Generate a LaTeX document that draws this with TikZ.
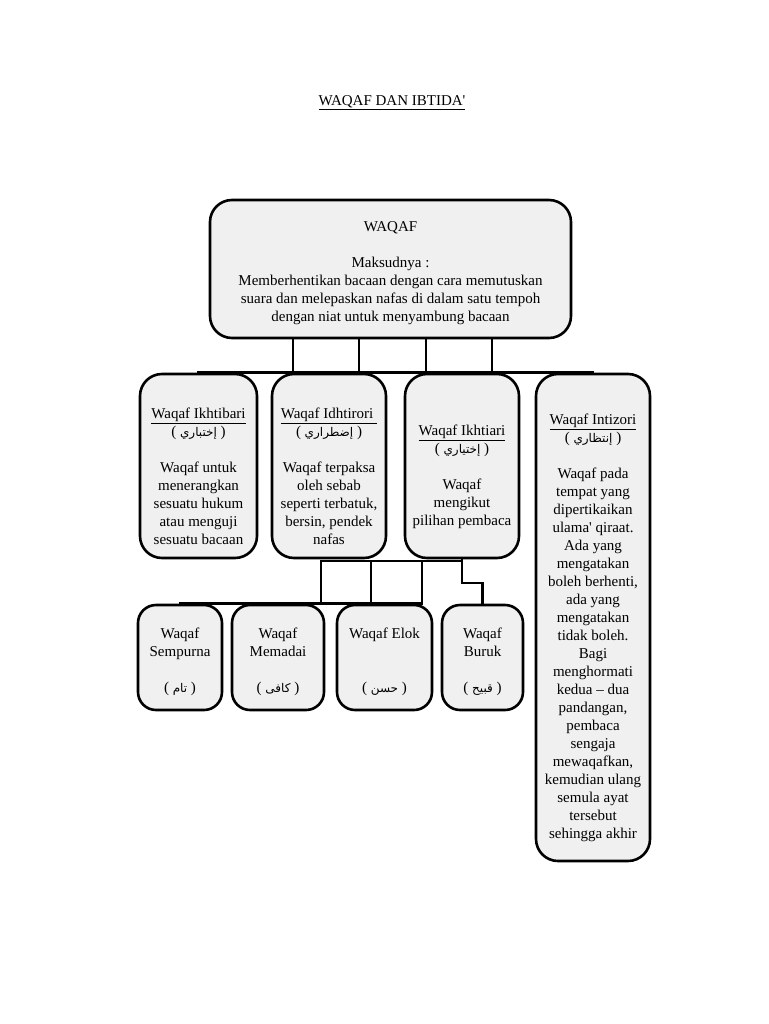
\documentclass[tikz,border=0pt]{standalone}
\usepackage{fontspec}
\setmainfont{Liberation Serif}
\newfontfamily\arfont[Script=Arabic]{DejaVu Sans}
\TeXXeTstate=1
\definecolor{boxgray}{HTML}{F0F0F0}
\newcommand{\arb}[1]{( {\arfont\fontsize{12}{18}\selectfont\beginR #1\endR} )}
\begin{document}
\begin{tikzpicture}[x=1pt,y=-1pt,
  box/.style={draw=black, line width=2.6pt, fill=boxgray, rounded corners=22pt, inner sep=0pt},
  sbox/.style={box, rounded corners=18pt, minimum height=105pt},
  txt/.style={inner sep=0pt, align=center, font=\fontsize{15}{18}\selectfont},
  conn/.style={draw=black, line width=2.6pt, line cap=rect}]
\useasboundingbox (0,0) rectangle (768,1024);

\node[txt] (title) at (392,103) {\underline{WAQAF DAN IBTIDA\textquotesingle}};

% boxes
\node[box, minimum width=361pt, minimum height=138pt] (waqaf) at (390.5,269) {};
\node[box, minimum width=117pt, minimum height=184pt] (b1) at (198.5,466) {};
\node[box, minimum width=114pt, minimum height=184pt] (b2) at (329,466) {};
\node[box, minimum width=114pt, minimum height=184pt] (b3) at (462,466) {};
\node[box, minimum width=114pt, minimum height=487pt] (b4) at (593,617.5) {};
\node[sbox, minimum width=84pt] (s1) at (180,657.5) {};
\node[sbox, minimum width=92pt] (s2) at (278,657.5) {};
\node[sbox, minimum width=95pt] (s3) at (384.5,657.5) {};
\node[sbox, minimum width=81pt] (s4) at (482.5,657.5) {};

% texts
\node[txt] (waqaft) at ([yshift=-4pt]waqaf.center)
 {WAQAF\\[18pt]Maksudnya :\\Memberhentikan bacaan dengan cara memutuskan\\suara dan melepaskan nafas di dalam satu tempoh\\dengan niat untuk menyambung bacaan};
\node[txt] (b1t) at ([yshift=-10pt]b1.center)
 {\underline{Waqaf Ikhtibari}\\\arb{إختباري}\\[18pt]Waqaf untuk\\menerangkan\\sesuatu hukum\\atau menguji\\sesuatu bacaan};
\node[txt] (b2t) at ([yshift=-10pt]b2.center)
 {\underline{Waqaf Idhtirori }\\\arb{إضطراري}\\[18pt]Waqaf terpaksa\\oleh sebab\\seperti terbatuk,\\bersin, pendek\\nafas};
\node[txt] (b3t) at ([yshift=-11pt]b3.center)
 {\underline{Waqaf Ikhtiari}\\\arb{إختياري}\\[18pt]Waqaf\\mengikut\\pilihan pembaca};
\node[txt] (b4t) at ([yshift=-10pt]b4.center)
 {\underline{Waqaf Intizori}\\\arb{إنتظاري}\\[18pt]Waqaf pada\\tempat yang\\dipertikaikan\\ulama\textquotesingle{} qiraat.\\Ada yang\\mengatakan\\boleh berhenti,\\ada yang\\mengatakan\\tidak boleh.\\Bagi\\menghormati\\kedua – dua\\pandangan,\\pembaca\\sengaja\\mewaqafkan,\\kemudian ulang\\semula ayat\\tersebut\\sehingga akhir};
\node[txt] (s1t) at ([yshift=-4pt]s1.center) {Waqaf\\Sempurna\\[18pt]\arb{تام}};
\node[txt] (s2t) at ([yshift=-4pt]s2.center) {Waqaf\\Memadai\\[18pt]\arb{كافى}};
\node[txt] (s3t) at ([yshift=-4pt]s3.center) {Waqaf Elok\\[36pt]\arb{حسن}};
\node[txt] (s4t) at ([yshift=-4pt]s4.center) {Waqaf\\Buruk\\[18pt]\arb{قبيح}};

% top connectors
\draw[conn] (b1.north) -- (b4.north);
\foreach \dx in {-97.5,-31.5,35.5,101.5}
  \draw[conn] ([xshift=\dx pt]waqaf.south) -- ([xshift=\dx pt]waqaf.south |- b1.north);

% bottom connectors
\coordinate (t1) at (321,561);
\coordinate (t2) at (371,561);
\coordinate (t3) at (422,561);
\coordinate (t4) at (462,561);
\coordinate (jb) at (482.5,583);
\draw[conn] (t1) -- (t4);
\draw[conn] (b3.south) -- (t4) |- (jb) -- (s4.north);
\draw[conn] (t1) -- (t1 |- s1.north);
\draw[conn] (t2) -- (t2 |- s1.north);
\draw[conn] (t3) -- (t3 |- s1.north);
\draw[conn] (s1.north) -- (t3 |- s1.north);
\end{tikzpicture}
\end{document}
